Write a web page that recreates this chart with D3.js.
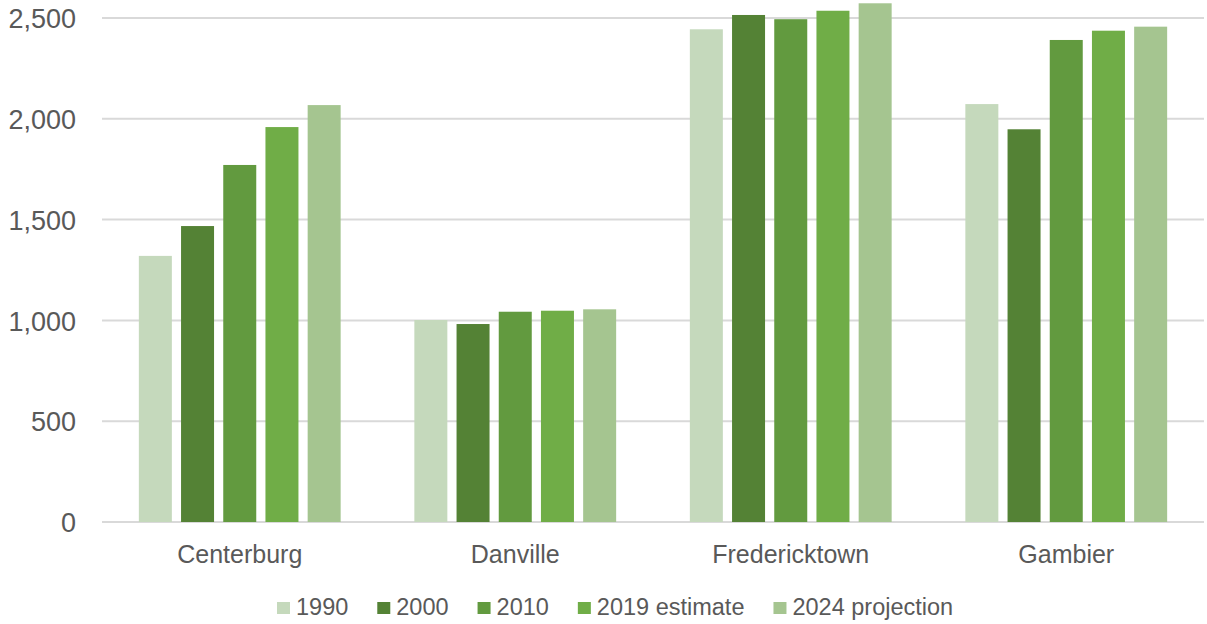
<!DOCTYPE html>
<html>
<head>
<meta charset="utf-8">
<script src="https://cdn.jsdelivr.net/npm/d3@7"></script>
<style>
  html, body { margin: 0; padding: 0; background: #fff; }
  svg { display: block; font-family: "Liberation Sans", Arial, sans-serif; }
</style>
</head>
<body>
<svg id="chart" width="1207" height="624"></svg>
<script>
const categories = ["Centerburg", "Danville", "Fredericktown", "Gambier"];
const seriesNames = ["1990", "2000", "2010", "2019 estimate", "2024 projection"];
const seriesColors = ["#c5d9bc", "#548235", "#629a3f", "#70ad47", "#a5c590"];
const values1990 = [1320, 1002, 2444, 2073];
const values2000 = [1468, 982, 2515, 1948];
const values2010 = [1771, 1043, 2494, 2391];
const values2019 = [1959, 1048, 2536, 2437];
const values2024 = [2068, 1055, 2573, 2457];
const yTicks = [0, 500, 1000, 1500, 2000, 2500];

const seriesValues = [values1990, values2000, values2010, values2019, values2024];

const svg = d3.select("#chart");
const margin = { left: 102, right: 3, top: 18, bottom: 102 };
const W = 1207, H = 624;

const x0 = d3.scaleBand().domain(categories).range([margin.left, W - margin.right]).padding(0);
const x1 = d3.scaleBand().domain(seriesNames).range([0, x0.bandwidth()])
  .paddingInner(0.218).paddingOuter(0.873);
const y = d3.scaleLinear().domain([0, 2500]).range([H - margin.bottom, margin.top]);

// gridlines
svg.append("g").selectAll("line").data(yTicks).join("line")
  .attr("x1", margin.left).attr("x2", W - margin.right)
  .attr("y1", d => y(d)).attr("y2", d => y(d))
  .attr("stroke", "#d9d9d9").attr("stroke-width", 2);

// y axis labels
const yAxis = d3.axisLeft(y).tickValues(yTicks).tickFormat(d3.format(",")).tickSize(0).tickPadding(0);
const ya = svg.append("g").attr("transform", `translate(76,0)`).call(yAxis);
ya.select(".domain").remove();
ya.selectAll("text").attr("fill", "#595959").style("font-size", "27px")
  .attr("font-family", "Liberation Sans, Arial, sans-serif").attr("dy", "0.36em");

// bars
const groups = svg.append("g").selectAll("g").data(categories).join("g")
  .attr("transform", d => `translate(${x0(d)},0)`);
groups.selectAll("rect").data((c, ci) => seriesNames.map((s, si) => ({ s, si, v: seriesValues[si][ci] })))
  .join("rect")
  .attr("x", d => x1(d.s)).attr("width", x1.bandwidth())
  .attr("y", d => y(d.v)).attr("height", d => y(0) - y(d.v))
  .attr("fill", d => seriesColors[d.si]);

// x axis
const xAxis = d3.axisBottom(x0).tickSize(0).tickPadding(0);
const xa = svg.append("g").attr("transform", `translate(0,${y(0)})`).call(xAxis);
xa.select(".domain").remove();
xa.selectAll("text").attr("fill", "#595959").style("font-size", "25px")
  .attr("font-family", "Liberation Sans, Arial, sans-serif").attr("dy", null).attr("y", 41);

// legend
const legend = svg.append("g").attr("transform", "translate(277,0)");
let lx = 0;
seriesNames.forEach((s, i) => {
  const g = legend.append("g").attr("transform", `translate(${lx},0)`);
  g.append("rect").attr("x", 0).attr("y", 602).attr("width", 13).attr("height", 12).attr("fill", seriesColors[i]);
  const t = g.append("text").attr("x", 19).attr("y", 615).text(s)
    .attr("fill", "#595959").style("font-size", "23.5px");
  lx += 19 + t.node().getComputedTextLength() + 29;
});
</script>
</body>
</html>
